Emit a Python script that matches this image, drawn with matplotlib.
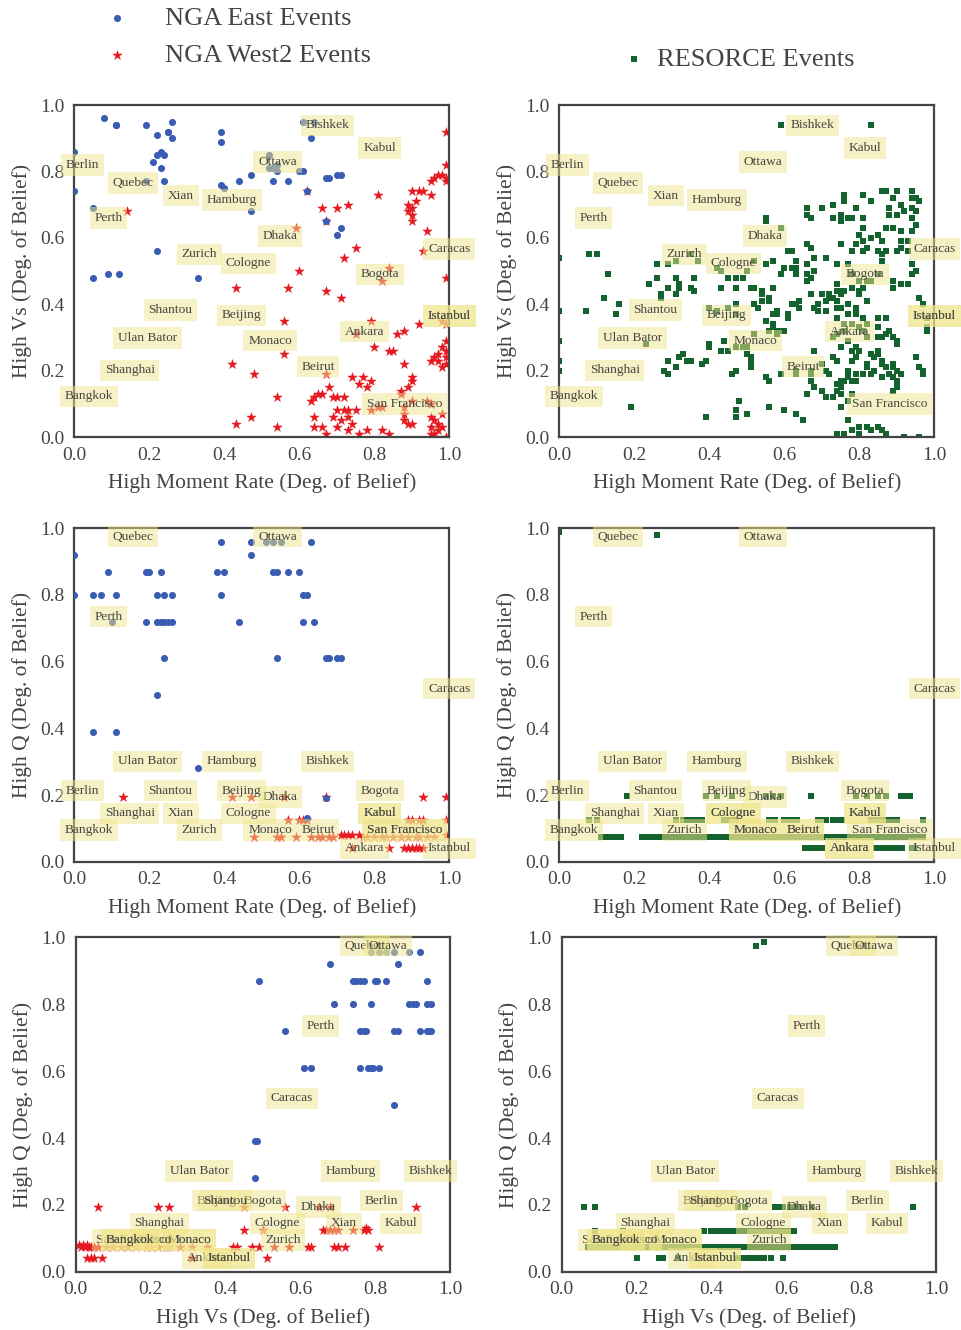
import numpy as np
import matplotlib
matplotlib.use("Agg")
import matplotlib.pyplot as plt

plt.rcParams['font.family'] = ['Liberation Serif', 'DejaVu Serif']

# ---- city labels (moment rate, Vs, Q degree of belief) ----
cities = ['Bishkek', 'Kabul', 'Berlin', 'Quebec', 'Xian', 'Hamburg', 'Ottawa', 'Perth',
          'Dhaka', 'Caracas', 'Zurich', 'Cologne', 'Bogota', 'Beijing', 'Shantou',
          'Ankara', 'Istanbul', 'Ulan Bator', 'Monaco', 'Beirut', 'Shanghai', 'San Francisco',
          'Bangkok']
city_mr = [0.675, 0.814, 0.021, 0.157, 0.285, 0.42, 0.542, 0.091, 0.549, 1.0, 0.333, 0.465,
           0.815, 0.446, 0.256, 0.774, 1.0, 0.195, 0.522, 0.65, 0.148, 0.881, 0.039]
city_vs = [0.939, 0.871, 0.819, 0.765, 0.727, 0.714, 0.829, 0.66, 0.606, 0.566, 0.55, 0.523,
           0.49, 0.367, 0.383, 0.317, 0.365, 0.298, 0.29, 0.212, 0.201, 0.10, 0.123]
# Vs positions as they sit along the x axis of the bottom row
city_vs_x = [0.949, 0.87, 0.818, 0.774, 0.717, 0.734, 0.835, 0.654, 0.649, 0.578, 0.554, 0.539,
             0.499, 0.377, 0.399, 0.349, 0.41, 0.33, 0.304, 0.212, 0.224, 0.156, 0.145]
city_q = [0.301, 0.145, 0.213, 0.975, 0.145, 0.301, 0.975, 0.735, 0.194, 0.519, 0.095, 0.145,
          0.213, 0.213, 0.213, 0.04, 0.04, 0.301, 0.095, 0.095, 0.145, 0.095, 0.095]

# ---- NGA East events ----
east_mr_vs = [(0.08, 0.96), (0.11, 0.94), (0.11, 0.94), (0.19, 0.94), (0.26, 0.95), (0.22, 0.91),
              (0.25, 0.92), (0.25, 0.92), (0.26, 0.90), (0.39, 0.92), (0.39, 0.89), (0.61, 0.95),
              (0.64, 0.95), (0.63, 0.90), (0.00, 0.86), (0.22, 0.85), (0.23, 0.86), (0.24, 0.85),
              (0.21, 0.83), (0.23, 0.81), (0.24, 0.77), (0.19, 0.77), (0.00, 0.74), (0.39, 0.76),
              (0.40, 0.75), (0.44, 0.77), (0.47, 0.79), (0.52, 0.85), (0.52, 0.81), (0.53, 0.81),
              (0.54, 0.82), (0.54, 0.80), (0.53, 0.77), (0.57, 0.77), (0.60, 0.80), (0.61, 0.80),
              (0.67, 0.78), (0.68, 0.78), (0.70, 0.79), (0.71, 0.79), (0.47, 0.68), (0.05, 0.69),
              (0.67, 0.65), (0.70, 0.61), (0.71, 0.63), (0.22, 0.56), (0.05, 0.48), (0.09, 0.49),
              (0.12, 0.49), (0.33, 0.48), (0.62, 0.74)]
east_mr_q = [(0.00, 0.92), (0.39, 0.96), (0.47, 0.96), (0.63, 0.96), (0.51, 0.96), (0.53, 0.96),
             (0.55, 0.96), (0.47, 0.92), (0.09, 0.87), (0.19, 0.87), (0.20, 0.87), (0.23, 0.87),
             (0.38, 0.87), (0.40, 0.87), (0.53, 0.87), (0.54, 0.87), (0.57, 0.87), (0.60, 0.87),
             (0.00, 0.80), (0.05, 0.80), (0.07, 0.80), (0.11, 0.80), (0.22, 0.80), (0.24, 0.80),
             (0.26, 0.80), (0.39, 0.80), (0.61, 0.80), (0.62, 0.80), (0.10, 0.72), (0.19, 0.72),
             (0.22, 0.72), (0.23, 0.72), (0.24, 0.72), (0.25, 0.72), (0.26, 0.72), (0.44, 0.72),
             (0.61, 0.72), (0.64, 0.72), (0.24, 0.61), (0.54, 0.61), (0.67, 0.61), (0.68, 0.61),
             (0.70, 0.61), (0.71, 0.61), (0.22, 0.50), (0.05, 0.39), (0.11, 0.39), (0.33, 0.28),
             (0.67, 0.19), (0.62, 0.13)]
east_vs_q = [(0.79, 0.955), (0.81, 0.955), (0.83, 0.955), (0.85, 0.955), (0.89, 0.955), (0.92, 0.955),
             (0.68, 0.92), (0.86, 0.92), (0.49, 0.87), (0.74, 0.87), (0.75, 0.87), (0.76, 0.87),
             (0.77, 0.87), (0.80, 0.87), (0.805, 0.87), (0.83, 0.87), (0.94, 0.87), (0.69, 0.80),
             (0.74, 0.80), (0.79, 0.80), (0.89, 0.80), (0.90, 0.80), (0.91, 0.80), (0.94, 0.80),
             (0.95, 0.80), (0.56, 0.72), (0.76, 0.72), (0.77, 0.72), (0.775, 0.72), (0.85, 0.72),
             (0.86, 0.72), (0.92, 0.72), (0.94, 0.72), (0.945, 0.72), (0.95, 0.72), (0.61, 0.61),
             (0.63, 0.61), (0.76, 0.61), (0.78, 0.61), (0.79, 0.61), (0.795, 0.61), (0.81, 0.61),
             (0.85, 0.50), (0.48, 0.39), (0.485, 0.39), (0.48, 0.28)]

# ---- NGA West2 events ----
west_mr_vs = [(0.99, 0.92), (0.99, 0.82), (0.95, 0.77), (0.96, 0.78), (0.97, 0.79), (0.98, 0.79),
              (0.99, 0.77), (0.99, 0.78), (0.90, 0.74), (0.92, 0.74), (0.93, 0.74), (0.95, 0.73),
              (0.91, 0.71), (0.90, 0.69), (0.89, 0.68), (0.90, 0.67), (0.90, 0.65), (0.89, 0.70),
              (0.81, 0.73), (0.62, 0.74), (0.66, 0.69), (0.70, 0.69), (0.73, 0.70), (0.67, 0.65),
              (0.59, 0.63), (0.14, 0.68), (0.94, 0.62), (0.93, 0.56), (0.75, 0.57), (0.72, 0.54),
              (0.60, 0.50), (0.99, 0.48), (0.84, 0.51), (0.82, 0.47), (0.43, 0.45), (0.57, 0.45),
              (0.67, 0.44), (0.71, 0.42), (0.56, 0.35), (0.79, 0.35), (0.75, 0.31), (0.86, 0.31),
              (0.88, 0.32), (0.92, 0.34), (0.98, 0.35), (0.99, 0.34), (0.80, 0.27), (0.84, 0.26),
              (0.85, 0.26), (0.56, 0.25), (0.42, 0.22), (0.48, 0.19), (0.67, 0.19), (0.99, 0.29),
              (0.98, 0.27), (0.97, 0.25), (0.96, 0.24), (0.99, 0.24), (0.99, 0.22), (0.98, 0.21),
              (0.97, 0.23), (0.95, 0.23), (0.99, 0.26), (0.88, 0.22), (0.90, 0.18), (0.90, 0.17),
              (0.89, 0.15), (0.87, 0.14), (0.74, 0.18), (0.77, 0.18), (0.79, 0.17), (0.76, 0.16),
              (0.78, 0.15), (0.68, 0.15), (0.66, 0.13), (0.65, 0.13), (0.64, 0.12), (0.63, 0.11),
              (0.69, 0.12), (0.70, 0.12), (0.72, 0.12), (0.54, 0.12), (0.43, 0.04), (0.47, 0.06),
              (0.54, 0.03), (0.64, 0.06), (0.69, 0.06), (0.70, 0.08), (0.72, 0.08), (0.73, 0.08),
              (0.75, 0.08), (0.73, 0.06), (0.71, 0.05), (0.74, 0.04), (0.70, 0.03), (0.73, 0.02),
              (0.76, 0.01), (0.78, 0.02), (0.64, 0.03), (0.66, 0.03), (0.67, 0.01), (0.79, 0.08),
              (0.81, 0.09), (0.82, 0.09), (0.87, 0.13), (0.90, 0.11), (0.88, 0.09), (0.95, 0.10),
              (0.94, 0.11), (0.82, 0.02), (0.84, 0.01), (0.88, 0.05), (0.89, 0.04), (0.90, 0.04),
              (0.88, 0.07), (0.95, 0.06), (0.96, 0.05), (0.97, 0.04), (0.95, 0.03), (0.97, 0.02),
              (0.96, 0.01), (0.95, 0.01), (0.98, 0.07), (0.98, 0.03), (0.96, 0.00), (0.99, 0.00)]
west_mr_q = [(0.13, 0.195), (0.42, 0.195), (0.47, 0.195), (0.56, 0.195), (0.67, 0.195), (0.93, 0.195),
             (0.99, 0.195), (0.57, 0.125), (0.60, 0.125), (0.61, 0.125), (0.62, 0.125), (0.89, 0.125),
             (0.90, 0.125), (0.92, 0.125), (0.93, 0.125), (0.99, 0.125), (0.48, 0.075), (0.54, 0.075),
             (0.55, 0.075), (0.59, 0.075), (0.63, 0.075), (0.65, 0.075), (0.66, 0.075), (0.68, 0.075),
             (0.69, 0.075), (0.71, 0.08), (0.72, 0.08), (0.73, 0.08), (0.74, 0.08), (0.76, 0.08),
             (0.77, 0.075), (0.78, 0.075), (0.80, 0.075), (0.82, 0.075), (0.83, 0.075), (0.85, 0.075),
             (0.87, 0.075), (0.89, 0.075), (0.91, 0.075), (0.92, 0.075), (0.94, 0.075), (0.96, 0.075),
             (0.99, 0.08), (0.74, 0.04), (0.84, 0.04), (0.88, 0.04), (0.89, 0.04), (0.90, 0.04),
             (0.91, 0.04), (0.92, 0.04), (0.93, 0.04)]
west_vs_q = [(0.06, 0.195), (0.22, 0.195), (0.25, 0.195), (0.45, 0.195), (0.56, 0.195), (0.65, 0.195),
             (0.68, 0.195), (0.91, 0.195), (0.45, 0.125), (0.50, 0.125), (0.66, 0.125), (0.67, 0.125),
             (0.68, 0.125), (0.69, 0.125), (0.70, 0.125), (0.74, 0.125), (0.77, 0.125), (0.775, 0.13),
             (0.78, 0.125), (0.01, 0.08), (0.015, 0.075), (0.02, 0.08), (0.025, 0.075), (0.03, 0.08),
             (0.035, 0.075), (0.04, 0.075), (0.05, 0.075), (0.06, 0.075), (0.08, 0.075), (0.10, 0.075),
             (0.12, 0.075), (0.14, 0.075), (0.16, 0.075), (0.19, 0.075), (0.20, 0.075), (0.22, 0.075),
             (0.24, 0.075), (0.25, 0.075), (0.28, 0.075), (0.31, 0.075), (0.35, 0.075), (0.42, 0.075),
             (0.43, 0.075), (0.47, 0.075), (0.49, 0.075), (0.53, 0.075), (0.57, 0.075), (0.62, 0.075),
             (0.63, 0.075), (0.69, 0.075), (0.70, 0.075), (0.72, 0.075), (0.81, 0.075), (0.03, 0.042),
             (0.04, 0.042), (0.05, 0.042), (0.07, 0.042), (0.31, 0.042), (0.51, 0.042)]

# ---- RESORCE events ----
res_mr_vs = [(0.59, 0.94), (0.83, 0.94), (0.00, 0.54), (0.08, 0.55), (0.10, 0.55), (0.13, 0.49),
             (0.12, 0.42), (0.07, 0.38), (0.16, 0.40), (0.15, 0.37), (0.00, 0.38), (0.00, 0.29),
             (0.00, 0.23), (0.00, 0.20), (0.19, 0.09), (0.26, 0.52), (0.29, 0.52), (0.31, 0.53),
             (0.26, 0.48), (0.24, 0.46), (0.31, 0.48), (0.32, 0.46), (0.32, 0.45), (0.31, 0.43),
             (0.29, 0.45), (0.27, 0.43), (0.27, 0.42), (0.35, 0.45), (0.36, 0.44), (0.36, 0.48),
             (0.37, 0.53), (0.35, 0.55), (0.23, 0.28), (0.43, 0.45), (0.47, 0.45), (0.52, 0.45),
             (0.54, 0.44), (0.54, 0.43), (0.57, 0.45), (0.42, 0.51), (0.43, 0.50), (0.45, 0.48),
             (0.47, 0.48), (0.49, 0.48), (0.50, 0.50), (0.52, 0.53), (0.55, 0.52), (0.57, 0.53),
             (0.60, 0.51), (0.59, 0.49), (0.62, 0.51), (0.63, 0.53), (0.66, 0.52), (0.62, 0.56),
             (0.66, 0.58), (0.67, 0.57), (0.55, 0.65), (0.59, 0.63), (0.42, 0.38), (0.47, 0.40),
             (0.45, 0.39), (0.40, 0.39), (0.47, 0.37), (0.52, 0.40), (0.54, 0.41), (0.56, 0.42),
             (0.58, 0.37), (0.58, 0.38), (0.61, 0.37), (0.61, 0.36), (0.64, 0.41), (0.62, 0.40),
             (0.64, 0.39), (0.55, 0.35), (0.57, 0.34), (0.58, 0.32), (0.60, 0.32), (0.56, 0.32),
             (0.47, 0.27), (0.49, 0.27), (0.50, 0.27), (0.52, 0.31), (0.40, 0.27), (0.40, 0.28),
             (0.43, 0.26), (0.44, 0.29), (0.45, 0.26), (0.33, 0.25), (0.34, 0.23), (0.35, 0.23),
             (0.32, 0.24), (0.29, 0.23), (0.31, 0.21), (0.28, 0.20), (0.29, 0.19), (0.38, 0.22),
             (0.39, 0.23), (0.46, 0.19), (0.47, 0.20), (0.50, 0.25), (0.51, 0.23), (0.51, 0.21),
             (0.48, 0.11), (0.47, 0.08), (0.47, 0.06), (0.50, 0.07), (0.39, 0.06), (0.56, 0.09),
             (0.60, 0.08), (0.63, 0.07), (0.65, 0.05), (0.55, 0.18), (0.56, 0.17), (0.59, 0.19),
             (0.63, 0.20), (0.67, 0.19),
             (0.76, 0.73), (0.76, 0.71), (0.81, 0.73), (0.83, 0.71), (0.86, 0.74), (0.87, 0.74),
             (0.89, 0.72), (0.90, 0.74), (0.88, 0.69), (0.91, 0.70), (0.90, 0.67), (0.88, 0.67),
             (0.94, 0.74), (0.95, 0.72), (0.94, 0.72), (0.96, 0.71), (0.94, 0.69), (0.95, 0.68),
             (0.94, 0.66), (0.95, 0.64), (0.92, 0.68), (0.89, 0.63), (0.87, 0.63), (0.91, 0.62),
             (0.94, 0.62), (0.93, 0.59), (0.91, 0.59), (0.91, 0.57), (0.90, 0.56), (0.86, 0.59),
             (0.85, 0.61), (0.83, 0.60), (0.81, 0.59), (0.80, 0.61), (0.81, 0.63), (0.79, 0.58),
             (0.75, 0.58), (0.78, 0.56), (0.81, 0.56), (0.82, 0.57), (0.85, 0.56), (0.86, 0.55),
             (0.87, 0.56), (0.93, 0.56), (0.94, 0.52), (0.95, 0.50), (0.94, 0.49), (0.91, 0.46),
             (0.93, 0.46), (0.89, 0.47), (0.89, 0.45), (0.86, 0.53), (0.85, 0.49), (0.83, 0.47),
             (0.82, 0.47), (0.80, 0.47), (0.78, 0.49), (0.77, 0.52), (0.74, 0.52), (0.71, 0.54),
             (0.68, 0.54), (0.66, 0.52), (0.63, 0.53), (0.63, 0.51), (0.63, 0.49), (0.66, 0.49),
             (0.68, 0.50), (0.67, 0.48), (0.66, 0.47), (0.60, 0.51), (0.59, 0.49), (0.57, 0.53),
             (0.55, 0.52), (0.61, 0.56), (0.66, 0.58), (0.55, 0.66), (0.66, 0.69), (0.66, 0.67),
             (0.67, 0.66), (0.70, 0.69), (0.73, 0.70), (0.75, 0.67), (0.73, 0.66), (0.75, 0.65),
             (0.77, 0.66), (0.78, 0.66), (0.81, 0.66), (0.79, 0.69),
             (0.74, 0.46), (0.75, 0.44), (0.75, 0.43), (0.74, 0.44), (0.76, 0.44), (0.78, 0.45),
             (0.80, 0.44), (0.80, 0.43), (0.81, 0.45), (0.82, 0.41), (0.74, 0.41), (0.73, 0.42),
             (0.70, 0.43), (0.71, 0.41), (0.69, 0.40), (0.68, 0.39), (0.69, 0.38), (0.71, 0.38),
             (0.72, 0.43), (0.72, 0.42), (0.67, 0.43), (0.64, 0.41), (0.63, 0.40), (0.64, 0.39),
             (0.61, 0.37), (0.58, 0.37), (0.57, 0.37), (0.55, 0.35), (0.57, 0.33), (0.56, 0.41),
             (0.54, 0.41), (0.53, 0.39), (0.52, 0.45), (0.54, 0.43), (0.51, 0.45), (0.57, 0.45),
             (0.59, 0.32), (0.58, 0.31), (0.74, 0.39), (0.75, 0.39), (0.77, 0.40), (0.79, 0.39),
             (0.79, 0.37), (0.77, 0.37), (0.74, 0.36), (0.81, 0.36), (0.85, 0.36), (0.87, 0.36),
             (0.85, 0.33), (0.82, 0.34), (0.80, 0.33), (0.76, 0.34), (0.78, 0.34),
             (0.73, 0.30), (0.74, 0.31), (0.76, 0.32), (0.77, 0.29), (0.81, 0.32), (0.82, 0.30),
             (0.79, 0.27), (0.80, 0.26), (0.78, 0.26), (0.75, 0.27), (0.68, 0.26), (0.73, 0.24),
             (0.74, 0.23), (0.78, 0.23), (0.79, 0.24), (0.82, 0.22), (0.84, 0.24), (0.85, 0.25),
             (0.86, 0.22), (0.87, 0.21), (0.86, 0.18), (0.89, 0.21), (0.90, 0.20), (0.89, 0.18),
             (0.90, 0.17), (0.91, 0.19), (0.90, 0.15), (0.89, 0.14), (0.88, 0.19), (0.89, 0.22),
             (0.86, 0.23), (0.85, 0.26), (0.83, 0.25), (0.85, 0.30), (0.86, 0.30), (0.87, 0.31),
             (0.88, 0.32), (0.89, 0.30), (0.90, 0.29), (0.90, 0.28), (0.84, 0.20), (0.82, 0.21),
             (0.83, 0.19), (0.81, 0.19), (0.79, 0.19), (0.77, 0.20), (0.77, 0.18), (0.78, 0.17),
             (0.79, 0.17), (0.76, 0.17), (0.75, 0.17), (0.74, 0.16), (0.75, 0.15), (0.74, 0.14),
             (0.72, 0.19), (0.71, 0.20), (0.70, 0.22), (0.67, 0.20), (0.67, 0.17), (0.68, 0.15),
             (0.70, 0.14), (0.66, 0.13), (0.71, 0.12), (0.73, 0.12), (0.75, 0.13), (0.77, 0.11),
             (0.78, 0.13), (0.75, 0.09), (0.77, 0.05), (0.78, 0.02), (0.80, 0.03), (0.82, 0.03),
             (0.83, 0.02), (0.85, 0.03), (0.86, 0.02), (0.80, 0.01), (0.87, 0.01), (0.92, 0.00),
             (0.96, 0.00), (0.74, 0.01), (0.76, 0.01), (0.95, 0.24), (0.96, 0.21), (0.97, 0.20),
             (0.97, 0.19), (0.98, 0.32), (0.96, 0.42), (0.97, 0.40), (0.98, 0.36), (0.98, 0.33),
             (0.51, 0.24), (0.51, 0.21), (0.55, 0.18), (0.56, 0.17), (0.59, 0.19), (0.63, 0.07),
             (0.65, 0.05), (0.60, 0.08), (0.56, 0.09), (0.50, 0.07), (0.63, 0.19)]
res_mr_q = [(0.00, 0.99), (0.26, 0.98), (0.18, 0.198), (0.39, 0.198), (0.42, 0.198), (0.46, 0.198),
            (0.55, 0.198), (0.57, 0.198), (0.59, 0.198), (0.67, 0.198), (0.79, 0.198), (0.82, 0.198),
            (0.85, 0.198), (0.87, 0.198), (0.91, 0.198), (0.925, 0.198), (0.935, 0.198),
            (0.08, 0.125), (0.10, 0.125), (0.31, 0.125), (0.33, 0.125), (0.345, 0.125), (0.36, 0.125),
            (0.37, 0.125), (0.38, 0.125), (0.44, 0.125), (0.455, 0.125), (0.47, 0.125), (0.56, 0.125),
            (0.575, 0.125), (0.60, 0.125), (0.61, 0.125), (0.625, 0.125), (0.635, 0.125), (0.69, 0.125),
            (0.70, 0.125), (0.71, 0.125), (0.73, 0.125), (0.74, 0.125), (0.755, 0.125), (0.83, 0.125),
            (0.845, 0.125), (0.86, 0.125), (0.87, 0.125), (0.885, 0.125), (0.90, 0.125), (0.97, 0.125),
            (0.11, 0.075), (0.125, 0.075), (0.14, 0.075), (0.155, 0.075), (0.165, 0.075), (0.22, 0.075),
            (0.235, 0.075), (0.245, 0.075), (0.26, 0.075), (0.27, 0.075), (0.28, 0.075), (0.29, 0.075),
            (0.30, 0.075), (0.31, 0.075), (0.32, 0.075), (0.33, 0.075), (0.34, 0.075), (0.35, 0.075),
            (0.36, 0.075), (0.37, 0.075), (0.38, 0.075), (0.39, 0.075), (0.40, 0.075), (0.41, 0.075),
            (0.42, 0.075), (0.43, 0.075), (0.44, 0.075), (0.45, 0.075), (0.46, 0.075), (0.47, 0.075),
            (0.48, 0.075), (0.49, 0.075), (0.50, 0.075), (0.51, 0.075), (0.52, 0.075), (0.53, 0.075),
            (0.54, 0.075), (0.55, 0.075), (0.56, 0.075), (0.57, 0.075), (0.58, 0.075), (0.59, 0.075),
            (0.60, 0.075), (0.61, 0.075), (0.62, 0.075), (0.63, 0.075), (0.64, 0.075), (0.65, 0.075),
            (0.66, 0.075), (0.67, 0.075), (0.68, 0.075), (0.69, 0.075), (0.70, 0.075), (0.71, 0.075),
            (0.72, 0.075), (0.73, 0.075), (0.74, 0.075), (0.75, 0.075), (0.76, 0.075), (0.77, 0.075),
            (0.78, 0.075), (0.79, 0.075), (0.80, 0.075), (0.81, 0.075), (0.82, 0.075), (0.83, 0.075),
            (0.84, 0.075), (0.85, 0.075), (0.86, 0.075), (0.87, 0.075), (0.88, 0.075), (0.89, 0.075),
            (0.90, 0.075), (0.91, 0.075), (0.92, 0.075), (0.93, 0.075), (0.94, 0.075), (0.95, 0.075),
            (0.96, 0.075), (0.97, 0.075), (0.655, 0.04), (0.67, 0.04), (0.685, 0.04), (0.695, 0.04),
            (0.70, 0.04), (0.845, 0.04), (0.86, 0.04), (0.87, 0.04), (0.88, 0.04), (0.895, 0.04),
            (0.91, 0.04), (0.915, 0.04), (0.94, 0.04), (0.945, 0.04)]
res_vs_q = [(0.52, 0.975), (0.54, 0.987), (0.06, 0.193), (0.09, 0.193), (0.47, 0.193), (0.49, 0.193),
            (0.57, 0.193), (0.58, 0.193), (0.59, 0.193), (0.61, 0.193), (0.62, 0.193), (0.64, 0.193),
            (0.67, 0.193), (0.94, 0.193), (0.09, 0.123), (0.165, 0.123), (0.38, 0.123), (0.40, 0.123),
            (0.41, 0.123), (0.42, 0.123), (0.43, 0.123), (0.44, 0.123), (0.45, 0.123), (0.46, 0.123),
            (0.47, 0.123), (0.48, 0.123), (0.49, 0.123), (0.50, 0.123), (0.51, 0.123), (0.52, 0.123),
            (0.53, 0.123), (0.54, 0.123), (0.55, 0.123), (0.56, 0.123), (0.57, 0.123), (0.58, 0.123),
            (0.59, 0.123), (0.60, 0.123), (0.61, 0.123), (0.62, 0.123), (0.07, 0.073), (0.08, 0.073),
            (0.09, 0.073), (0.10, 0.073), (0.11, 0.073), (0.12, 0.073), (0.13, 0.073), (0.14, 0.073),
            (0.15, 0.073), (0.16, 0.073), (0.17, 0.073), (0.18, 0.073), (0.19, 0.073), (0.20, 0.073),
            (0.21, 0.073), (0.22, 0.073), (0.23, 0.073), (0.24, 0.073), (0.25, 0.073), (0.26, 0.073),
            (0.27, 0.073), (0.28, 0.073), (0.29, 0.073), (0.30, 0.073), (0.31, 0.073), (0.32, 0.073),
            (0.33, 0.073), (0.34, 0.073), (0.35, 0.073), (0.36, 0.073), (0.37, 0.073), (0.38, 0.073),
            (0.39, 0.073), (0.40, 0.073), (0.41, 0.073), (0.42, 0.073), (0.43, 0.073), (0.44, 0.073),
            (0.45, 0.073), (0.46, 0.073), (0.47, 0.073), (0.48, 0.073), (0.49, 0.073), (0.50, 0.073),
            (0.51, 0.073), (0.52, 0.073), (0.53, 0.073), (0.54, 0.073), (0.55, 0.073), (0.56, 0.073),
            (0.57, 0.073), (0.58, 0.073), (0.59, 0.073), (0.60, 0.073), (0.61, 0.073), (0.62, 0.073),
            (0.63, 0.073), (0.64, 0.073), (0.65, 0.073), (0.66, 0.073), (0.67, 0.073), (0.68, 0.073),
            (0.69, 0.073), (0.70, 0.073), (0.71, 0.073), (0.72, 0.073), (0.73, 0.073), (0.20, 0.04),
            (0.26, 0.04), (0.27, 0.04), (0.31, 0.04), (0.47, 0.04), (0.48, 0.04), (0.49, 0.04),
            (0.50, 0.04), (0.51, 0.04), (0.52, 0.04), (0.53, 0.04), (0.54, 0.04), (0.56, 0.04),
            (0.59, 0.04)]

# labels that show up drawn twice (darker) in each panel
label_repeat = [['Istanbul'], ['Istanbul'],
                ['Kabul', 'San Francisco'], ['Cologne', 'Kabul', 'Monaco', 'Beirut', 'Ankara'],
                ['Bangkok', 'Monaco', 'Istanbul'], ['Bangkok', 'Monaco', 'Istanbul']]

c_east = '#3a5db3'
c_west = '#e5191f'
c_res = '#14632f'
txt_c = '#444444'

fig = plt.figure(figsize=(9.62, 13.3), dpi=100)
positions = [[0.0772, 0.6714, 0.3898, 0.2496], [0.5814, 0.6714, 0.3898, 0.2496],
             [0.0772, 0.3521, 0.3898, 0.2507], [0.5814, 0.3521, 0.3898, 0.2507],
             [0.0787, 0.0438, 0.3890, 0.2514], [0.5839, 0.0438, 0.3890, 0.2514]]

xlab_mr = 'High Moment Rate (Deg. of Belief)'
xlab_vs = 'High Vs (Deg. of Belief)'
ylab_q = 'High Q (Deg. of Belief)'

panels = [
    (xlab_mr, xlab_vs, city_mr, city_vs, [('w', west_mr_vs), ('e', east_mr_vs)]),
    (xlab_mr, xlab_vs, city_mr, city_vs, [('r', res_mr_vs)]),
    (xlab_mr, ylab_q, city_mr, city_q, [('w', west_mr_q), ('e', east_mr_q)]),
    (xlab_mr, ylab_q, city_mr, city_q, [('r', res_mr_q)]),
    (xlab_vs, ylab_q, city_vs_x, city_q, [('w', west_vs_q), ('e', east_vs_q)]),
    (xlab_vs, ylab_q, city_vs_x, city_q, [('r', res_vs_q)]),
]

handles = {}
for i, (xl, yl, lx, ly, series) in enumerate(panels):
    ax = fig.add_axes(positions[i])
    for kind, pts in series:
        pts = np.array(pts)
        if kind == 'e':
            h = ax.scatter(pts[:, 0], pts[:, 1], s=26, marker='o', color=c_east, linewidths=0, zorder=3)
            handles['e'] = h
        elif kind == 'w':
            h = ax.scatter(pts[:, 0], pts[:, 1], s=50, marker='*', color=c_west, linewidths=0.3, zorder=2)
            handles['w'] = h
        else:
            h = ax.scatter(pts[:, 0], pts[:, 1], s=18, marker='s', color=c_res, linewidths=0, zorder=2)
            handles['r'] = h
    for name, x, y in zip(cities, lx, ly):
        n = 2 if name in label_repeat[i] else 1
        for _ in range(n):
            ax.text(x, y, name, ha='center', va='center', fontsize=9.6, color=txt_c, zorder=6,
                    bbox=dict(boxstyle='square,pad=0.35', fc='#f0e68c', ec='none', alpha=0.5))
    ax.set_xlim(0, 1)
    ax.set_ylim(0, 1)
    ax.set_xticks(np.arange(0, 1.01, 0.2))
    ax.set_yticks(np.arange(0, 1.01, 0.2))
    ax.tick_params(length=0, labelsize=14, colors=txt_c, pad=7)
    ax.set_xlabel(xl, fontsize=15.5, color=txt_c, labelpad=7)
    ax.set_ylabel(yl, fontsize=15.5, color=txt_c, labelpad=6)
    for sp in ax.spines.values():
        sp.set_color('#444444')
        sp.set_linewidth(1.6)

fig.legend([handles['e'], handles['w']], ['NGA East Events', 'NGA West2 Events'],
           loc='upper left', bbox_to_anchor=(0.069, 1.013), frameon=False, fontsize=19,
           handletextpad=0.85, labelspacing=0.5, scatterpoints=1, labelcolor=txt_c)
fig.legend([handles['r']], ['RESORCE Events'], loc='upper left', bbox_to_anchor=(0.621, 0.982),
           frameon=False, fontsize=19, handlelength=1.0, handletextpad=0.35, scatterpoints=1,
           labelcolor=txt_c)

fig.savefig('out.png', dpi=100)
